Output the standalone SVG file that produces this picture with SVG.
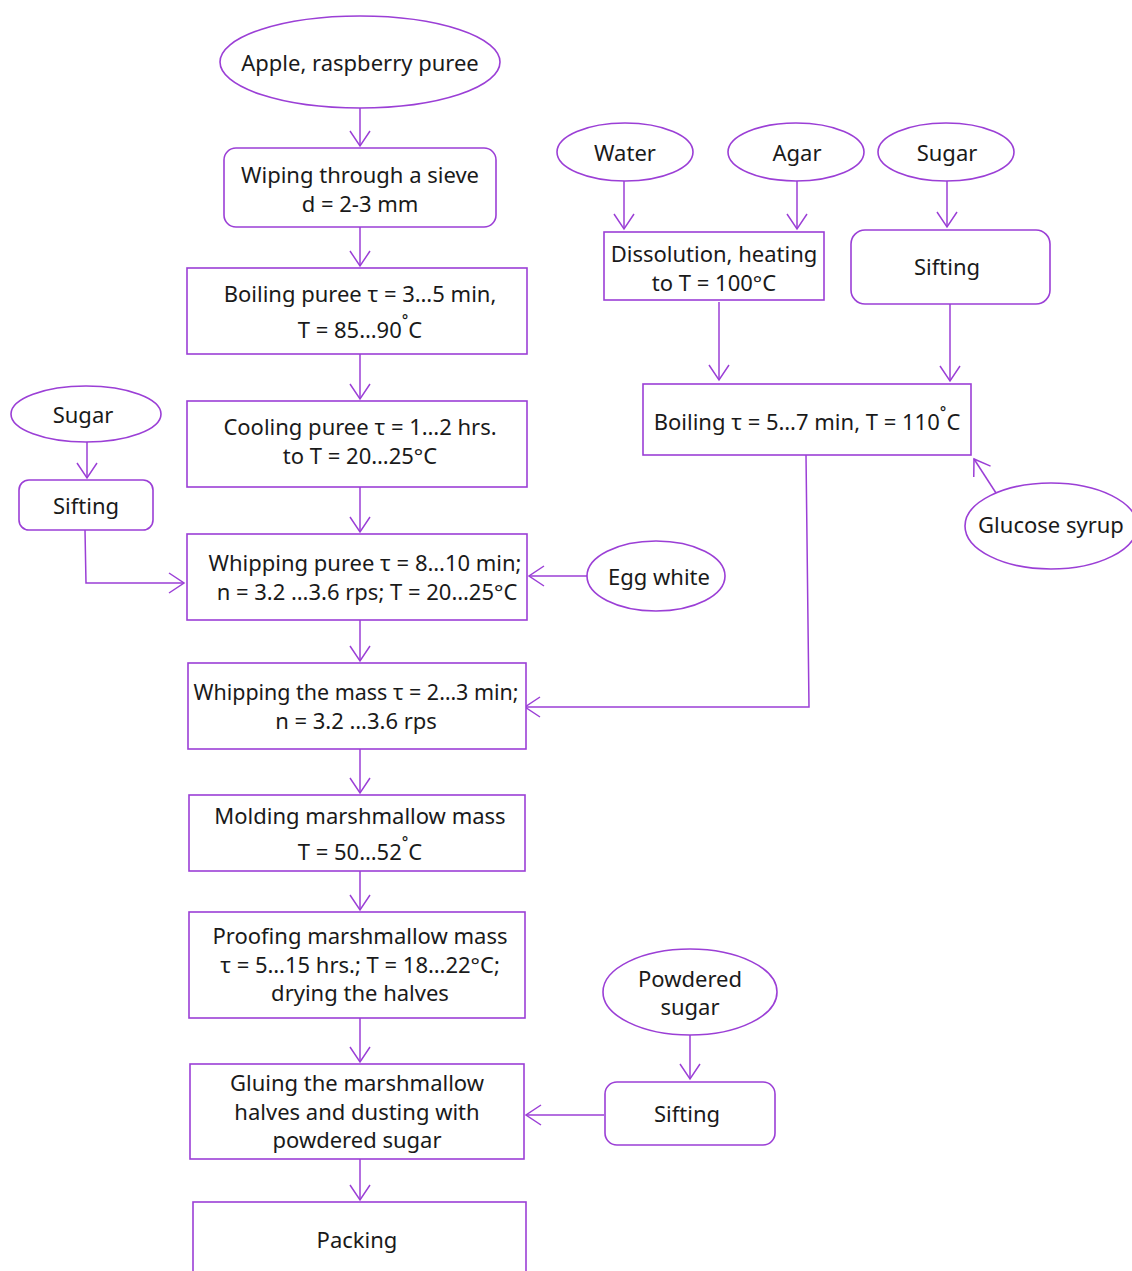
<svg xmlns="http://www.w3.org/2000/svg" width="1132" height="1271" viewBox="0 0 1132 1271">
<defs>
<marker id="ah" markerUnits="userSpaceOnUse" markerWidth="24" markerHeight="24" viewBox="-16 -12 20 24" refX="0" refY="0" orient="auto" overflow="visible">
<path d="M-15,-10 L0,0 L-15,10" fill="none" stroke="#9b3fd6" stroke-width="1.5"/>
</marker>
<style>
.n{fill:#fff;stroke:#9b3fd6;stroke-width:1.6}
.t{font-family:"Noto Sans","Liberation Sans",sans-serif;font-size:22px;fill:#1a1a1a;text-anchor:middle;dominant-baseline:central}
.c{fill:none;stroke:#9b3fd6;stroke-width:1.5}
</style>
</defs>
<rect width="1132" height="1271" fill="#fff"/>
<g id="connectors">
<path class="c" d="M360,108 V146" marker-end="url(#ah)"/>
<path class="c" d="M360,227 V266" marker-end="url(#ah)"/>
<path class="c" d="M360,354 V399" marker-end="url(#ah)"/>
<path class="c" d="M360,487 V532" marker-end="url(#ah)"/>
<path class="c" d="M360,620 V661" marker-end="url(#ah)"/>
<path class="c" d="M360,749 V793" marker-end="url(#ah)"/>
<path class="c" d="M360,871 V910" marker-end="url(#ah)"/>
<path class="c" d="M360,1018 V1062" marker-end="url(#ah)"/>
<path class="c" d="M360,1159 V1200" marker-end="url(#ah)"/>
<path class="c" d="M87,442 V478" marker-end="url(#ah)"/>
<path class="c" d="M85,530 L86,583 H184" marker-end="url(#ah)"/>
<path class="c" d="M588,576 H529" marker-end="url(#ah)"/>
<path class="c" d="M624,181 V229" marker-end="url(#ah)"/>
<path class="c" d="M797,181 V229" marker-end="url(#ah)"/>
<path class="c" d="M947,181 V227" marker-end="url(#ah)"/>
<path class="c" d="M719,302 V380" marker-end="url(#ah)"/>
<path class="c" d="M950,304 V381" marker-end="url(#ah)"/>
<path class="c" d="M806,455 L809,707 H525" marker-end="url(#ah)"/>
<path class="c" d="M996,493 L974,459" marker-end="url(#ah)"/>
<path class="c" d="M690,1035 V1079" marker-end="url(#ah)"/>
<path class="c" d="M604,1115 H526" marker-end="url(#ah)"/>
</g>
<g id="n-apple"><ellipse class="n" cx="360" cy="62" rx="140" ry="46"/><text class="t" x="360" y="62">Apple, raspberry puree</text></g>
<g id="n-wiping"><rect class="n" x="224" y="148" width="272" height="79" rx="12"/><text class="t" x="360" y="174">Wiping through a sieve</text><text class="t" x="360" y="203">d = 2-3 mm</text></g>
<g id="n-boiling-puree"><rect class="n" x="187" y="268" width="340" height="86"/><text class="t" x="360" y="293">Boiling puree τ = 3…5 min,</text><text class="t" x="360" y="329">T = 85…90<tspan dy="-6">˚</tspan><tspan dy="6">C</tspan></text></g>
<g id="n-cooling"><rect class="n" x="187" y="401" width="340" height="86"/><text class="t" x="360" y="426">Cooling puree τ = 1…2 hrs.</text><text class="t" x="360" y="455">to T = 20…25°C</text></g>
<g id="n-whip-puree"><rect class="n" x="187" y="534" width="340" height="86"/><text class="t" x="365" y="562">Whipping puree τ = 8…10 min;</text><text class="t" x="367" y="591">n = 3.2 …3.6 rps; T = 20…25°C</text></g>
<g id="n-whip-mass"><rect class="n" x="188" y="663" width="338" height="86"/><text class="t" x="356" y="691" textLength="325" lengthAdjust="spacingAndGlyphs">Whipping the mass τ = 2…3 min;</text><text class="t" x="356" y="720">n = 3.2 …3.6 rps</text></g>
<g id="n-molding"><rect class="n" x="189" y="795" width="336" height="76"/><text class="t" x="360" y="815">Molding marshmallow mass</text><text class="t" x="360" y="851">T = 50…52<tspan dy="-6">˚</tspan><tspan dy="6">C</tspan></text></g>
<g id="n-proofing"><rect class="n" x="189" y="912" width="336" height="106"/><text class="t" x="360" y="935">Proofing marshmallow mass</text><text class="t" x="360" y="964">τ = 5…15 hrs.; T = 18…22°C;</text><text class="t" x="360" y="992">drying the halves</text></g>
<g id="n-gluing"><rect class="n" x="190" y="1064" width="334" height="95"/><text class="t" x="357" y="1082">Gluing the marshmallow</text><text class="t" x="357" y="1111">halves and dusting with</text><text class="t" x="357" y="1139">powdered sugar</text></g>
<g id="n-packing"><rect class="n" x="193" y="1202" width="333" height="80"/><text class="t" x="357" y="1239">Packing</text></g>
<g id="n-sugar-left"><ellipse class="n" cx="86" cy="414" rx="75" ry="28"/><text class="t" x="83" y="414">Sugar</text></g>
<g id="n-sifting-left"><rect class="n" x="19" y="480" width="134" height="50" rx="10"/><text class="t" x="86" y="505">Sifting</text></g>
<g id="n-egg"><ellipse class="n" cx="656" cy="576" rx="69" ry="35"/><text class="t" x="659" y="576">Egg white</text></g>
<g id="n-water"><ellipse class="n" cx="625" cy="152" rx="68" ry="29"/><text class="t" x="625" y="152">Water</text></g>
<g id="n-agar"><ellipse class="n" cx="796" cy="152" rx="68" ry="29"/><text class="t" x="797" y="152">Agar</text></g>
<g id="n-sugar-right"><ellipse class="n" cx="946" cy="152" rx="68" ry="29"/><text class="t" x="947" y="152">Sugar</text></g>
<g id="n-dissolution"><rect class="n" x="604" y="232" width="220" height="68"/><text class="t" x="714" y="253">Dissolution, heating</text><text class="t" x="714" y="282">to T = 100°C</text></g>
<g id="n-sifting-right"><rect class="n" x="851" y="230" width="199" height="74" rx="14"/><text class="t" x="947" y="266">Sifting</text></g>
<g id="n-boiling"><rect class="n" x="643" y="384" width="328" height="71"/><text class="t" x="807" y="421">Boiling τ = 5…7 min, T = 110<tspan dy="-6">˚</tspan><tspan dy="6">C</tspan></text></g>
<g id="n-glucose"><ellipse class="n" cx="1051" cy="526" rx="86" ry="43"/><text class="t" x="1051" y="524">Glucose syrup</text></g>
<g id="n-powdered"><ellipse class="n" cx="690" cy="992" rx="87" ry="43"/><text class="t" x="690" y="978">Powdered</text><text class="t" x="690" y="1006">sugar</text></g>
<g id="n-sifting-bottom"><rect class="n" x="605" y="1082" width="170" height="63" rx="12"/><text class="t" x="687" y="1113">Sifting</text></g>
</svg>
